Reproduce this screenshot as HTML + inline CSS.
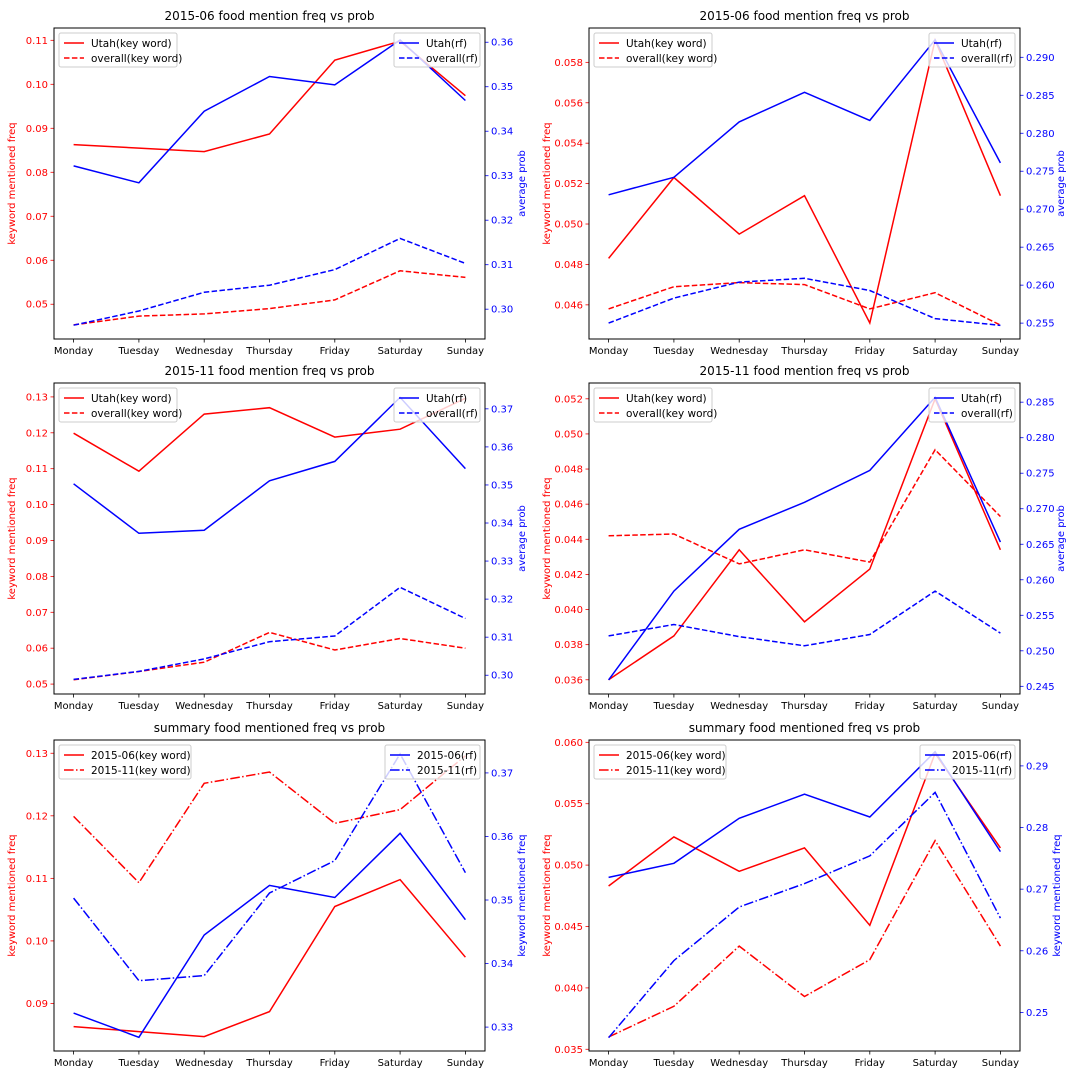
<!DOCTYPE html>
<html><head><meta charset="utf-8"><style>
body{margin:0;background:#fff;}
svg{display:block;font-family:"DejaVu Sans","Liberation Sans",sans-serif;}
</style></head><body>
<svg id="chart" width="1080" height="1080" viewBox="0 0 1080 1080" xmlns="http://www.w3.org/2000/svg"></svg>
<script>
const days = ["Monday","Tuesday","Wednesday","Thursday","Friday","Saturday","Sunday"];
// 2015-06
const jun_utah_kw = [0.0863,0.0855,0.0847,0.0887,0.1055,0.1098,0.0974];
const jun_all_kw  = [0.0453,0.0473,0.0478,0.0490,0.0510,0.0576,0.0561];
const jun_utah_rf = [0.3322,0.3284,0.3445,0.3523,0.3504,0.3605,0.3469];
const jun_all_rf  = [0.2964,0.2996,0.3038,0.3054,0.3089,0.3159,0.3103];
const jun2_utah_kw = [0.0483,0.0523,0.0495,0.0514,0.0451,0.0591,0.0514];
const jun2_all_kw  = [0.0458,0.0469,0.0471,0.0470,0.0458,0.0466,0.0450];
const jun2_utah_rf = [0.2719,0.2742,0.2815,0.2854,0.2817,0.2923,0.2761];
const jun2_all_rf  = [0.2550,0.2583,0.2604,0.2609,0.2593,0.2556,0.2547];
// 2015-11
const nov_utah_kw = [0.1199,0.1093,0.1252,0.1270,0.1188,0.1210,0.1296];
const nov_all_kw  = [0.0512,0.0535,0.0561,0.0644,0.0595,0.0627,0.0600];
const nov_utah_rf = [0.3503,0.3373,0.3381,0.3511,0.3562,0.3730,0.3543];
const nov_all_rf  = [0.2989,0.3010,0.3043,0.3088,0.3103,0.3231,0.3149];
const nov2_utah_kw = [0.0360,0.0385,0.0434,0.0393,0.0423,0.0520,0.0434];
const nov2_all_kw  = [0.0442,0.0443,0.0426,0.0434,0.0427,0.0491,0.0453];
const nov2_utah_rf = [0.2459,0.2584,0.2671,0.2709,0.2754,0.2857,0.2653];
const nov2_all_rf  = [0.2521,0.2537,0.2520,0.2507,0.2523,0.2584,0.2525];
// tick labels
const ticksA = ["0.05","0.06","0.07","0.08","0.09","0.10","0.11"];
const ticksA_r = ["0.30","0.31","0.32","0.33","0.34","0.35","0.36"];
const ticksB = ["0.046","0.048","0.050","0.052","0.054","0.056","0.058"];
const ticksB_r = ["0.255","0.260","0.265","0.270","0.275","0.280","0.285","0.290"];
const ticksC = ["0.05","0.06","0.07","0.08","0.09","0.10","0.11","0.12","0.13"];
const ticksC_r = ["0.30","0.31","0.32","0.33","0.34","0.35","0.36","0.37"];
const ticksD = ["0.036","0.038","0.040","0.042","0.044","0.046","0.048","0.050","0.052"];
const ticksD_r = ["0.245","0.250","0.255","0.260","0.265","0.270","0.275","0.280","0.285"];
const ticksE = ["0.09","0.10","0.11","0.12","0.13"];
const ticksE_r = ["0.33","0.34","0.35","0.36","0.37"];
const ticksF = ["0.035","0.040","0.045","0.050","0.055","0.060"];
const ticksF_r = ["0.25","0.26","0.27","0.28","0.29"];

const NS="http://www.w3.org/2000/svg";
const svg=document.getElementById('chart');
function mk(tag,attrs,parent){const e=document.createElementNS(NS,tag);for(const k in attrs)e.setAttribute(k,attrs[k]);(parent||svg).appendChild(e);return e;}
const DASH="5.5,2.4", DASHDOT="9.6,2.4,1.5,2.4";
const RED="#ff0000", BLUE="#0000ff";

const panels=[
 {x:54,y:28,title:"2015-06 food mention freq vs prob",L:[0.0421,0.1128],R:[0.2933,0.3632],lt:ticksA,rt:ticksA_r,rlab:"average prob",
  red:[[jun_utah_kw,null,"Utah(key word)"],[jun_all_kw,DASH,"overall(key word)"]],blue:[[jun_utah_rf,null,"Utah(rf)"],[jun_all_rf,DASH,"overall(rf)"]],lw:118,rw:86},
 {x:589,y:28,title:"2015-06 food mention freq vs prob",L:[0.04431,0.0597],R:[0.25291,0.29386],lt:ticksB,rt:ticksB_r,rlab:"average prob",
  red:[[jun2_utah_kw,null,"Utah(key word)"],[jun2_all_kw,DASH,"overall(key word)"]],blue:[[jun2_utah_rf,null,"Utah(rf)"],[jun2_all_rf,DASH,"overall(rf)"]],lw:118,rw:86},
 {x:54,y:383,title:"2015-11 food mention freq vs prob",L:[0.04724,0.13387],R:[0.29507,0.37679],lt:ticksC,rt:ticksC_r,rlab:"average prob",
  red:[[nov_utah_kw,null,"Utah(key word)"],[nov_all_kw,DASH,"overall(key word)"]],blue:[[nov_utah_rf,null,"Utah(rf)"],[nov_all_rf,DASH,"overall(rf)"]],lw:118,rw:86},
 {x:589,y:383,title:"2015-11 food mention freq vs prob",L:[0.03519,0.0529],R:[0.24392,0.2877],lt:ticksD,rt:ticksD_r,rlab:"average prob",
  red:[[nov2_utah_kw,null,"Utah(key word)"],[nov2_all_kw,DASH,"overall(key word)"]],blue:[[nov2_utah_rf,null,"Utah(rf)"],[nov2_all_rf,DASH,"overall(rf)"]],lw:118,rw:86},
 {x:54,y:740,title:"summary food mentioned freq vs prob",L:[0.0824,0.13212],R:[0.32624,0.37518],lt:ticksE,rt:ticksE_r,rlab:"keyword mentioned freq",
  red:[[jun_utah_kw,null,"2015-06(key word)"],[nov_utah_kw,DASHDOT,"2015-11(key word)"]],blue:[[jun_utah_rf,null,"2015-06(rf)"],[nov_utah_rf,DASHDOT,"2015-11(rf)"]],lw:132,rw:95},
 {x:589,y:740,title:"summary food mentioned freq vs prob",L:[0.03486,0.06019],R:[0.24374,0.2942],lt:ticksF,rt:ticksF_r,rlab:"keyword mentioned freq",
  red:[[jun2_utah_kw,null,"2015-06(key word)"],[nov2_utah_kw,DASHDOT,"2015-11(key word)"]],blue:[[jun2_utah_rf,null,"2015-06(rf)"],[nov2_utah_rf,DASHDOT,"2015-11(rf)"]],lw:132,rw:95}
];
const W=431,H=311;

function legend(g,x,y,w,items,color){
  const lg=mk('g',{},g);
  
  
  mk('rect',{x:x,y:y,width:w,height:34,rx:2,fill:"#fff","fill-opacity":0.8,stroke:"#ccc","stroke-width":1},lg);
  items.forEach((it,i)=>{
    const yy=y+10+i*15;
    const e=mk('g',{},lg);
    
    
    const ln=mk('line',{x1:x+5,x2:x+25,y1:yy,y2:yy,stroke:color,"stroke-width":1.5},e);
    if(it[1])ln.setAttribute('stroke-dasharray',it[1]);
    const t=mk('text',{x:x+32,y:yy+4,"font-size":10.5,fill:"#000"},e);t.textContent=it[2];
  });
}

panels.forEach((p,pi)=>{
  const g=mk('g',{});
  
  
  const sx=i=>p.x+(i+0.3)*W/6.6;
  const syL=v=>p.y+H-(v-p.L[0])/(p.L[1]-p.L[0])*H;
  const syR=v=>p.y+H-(v-p.R[0])/(p.R[1]-p.R[0])*H;
  const t=mk('text',{x:p.x+W/2,y:p.y-8,"text-anchor":"middle","font-size":12,fill:"#000"},g);
  t.textContent=p.title;
  
  
  // x ticks
  days.forEach((d,i)=>{
    const x=sx(i);
    mk('line',{x1:x,x2:x,y1:p.y+H,y2:p.y+H+3.5,stroke:"#000","stroke-width":0.8},g);
    const tt=mk('text',{x:x,y:p.y+H+15,"text-anchor":"middle","font-size":10,fill:"#000"},g);
    tt.textContent=d;
    
    
  });
  // left ticks
  p.lt.forEach(s=>{
    const y=syL(parseFloat(s));
    mk('line',{x1:p.x-3.5,x2:p.x,y1:y,y2:y,stroke:RED,"stroke-width":0.8},g);
    const tt=mk('text',{x:p.x-6,y:y+3.5,"text-anchor":"end","font-size":10,fill:RED},g);
    tt.textContent=s;
    
    
  });
  p.rt.forEach(s=>{
    const y=syR(parseFloat(s));
    mk('line',{x1:p.x+W,x2:p.x+W+3.5,y1:y,y2:y,stroke:BLUE,"stroke-width":0.8},g);
    const tt=mk('text',{x:p.x+W+6,y:y+3.5,"text-anchor":"start","font-size":10,fill:BLUE},g);
    tt.textContent=s;
    
    
  });
  const lx=p.x-39, cy=p.y+H/2;
  const yl=mk('text',{x:lx,y:cy,transform:`rotate(-90 ${lx} ${cy})`,"text-anchor":"middle","font-size":10,fill:RED},g);
  yl.textContent="keyword mentioned freq";
  
  
  const rx=p.x+W+(p.rt[0].length>4?44:40);
  const yr=mk('text',{x:rx,y:cy,transform:`rotate(-90 ${rx} ${cy})`,"text-anchor":"middle","font-size":10,fill:BLUE},g);
  yr.textContent=p.rlab;
  
  
  // red series
  p.red.forEach((s,si)=>{
    const pts=s[0].map((v,i)=>sx(i).toFixed(1)+","+syL(v).toFixed(1)).join(" ");
    const pl=mk('polyline',{points:pts,fill:"none",stroke:RED,"stroke-width":1.5},g);
    if(s[1])pl.setAttribute('stroke-dasharray',s[1]);
    
    
  });
  legend(g,p.x+5,p.y+5,p.lw,p.red,RED);
  p.blue.forEach((s,si)=>{
    const pts=s[0].map((v,i)=>sx(i).toFixed(1)+","+syR(v).toFixed(1)).join(" ");
    const pl=mk('polyline',{points:pts,fill:"none",stroke:BLUE,"stroke-width":1.5},g);
    if(s[1])pl.setAttribute('stroke-dasharray',s[1]);
    
    
  });
  legend(g,p.x+W-5-p.rw,p.y+5,p.rw,p.blue,BLUE);
  const fr=mk('rect',{x:p.x,y:p.y,width:W,height:H,fill:"none",stroke:"#000","stroke-width":1},g);
  
  
});
</script>
</body></html>
